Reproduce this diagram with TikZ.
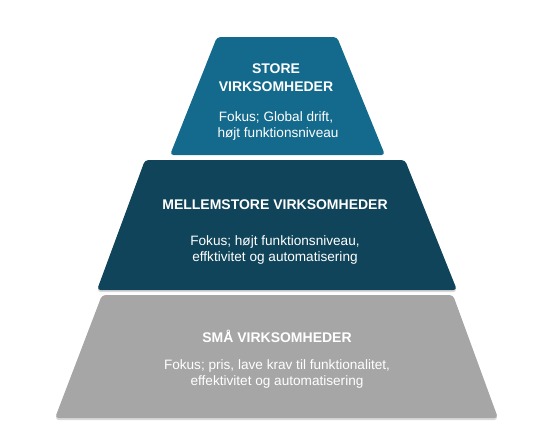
\documentclass[tikz,border=0pt]{standalone}
\usepackage{fontspec}
\setmainfont{Liberation Sans}
\definecolor{topc}{RGB}{20,106,140}
\definecolor{midc}{RGB}{15,68,90}
\definecolor{botc}{RGB}{166,166,166}
\begin{document}
\begin{tikzpicture}[x=1pt,y=-1pt,
  tier/.style={rounded corners=3.5pt},
  head/.style={anchor=base,text=white,inner sep=0pt,font=\fontsize{14}{16}\selectfont\bfseries},
  body/.style={anchor=base,text=white,inner sep=0pt,font=\fontsize{13.6}{16}\selectfont}]
\useasboundingbox (0,0) rectangle (550,440);
% tiers
\fill[tier,topc] (217,37) -- (337,37) -- (385,155) -- (170,155) -- cycle;
\fill[tier,black!15] (97,292) -- (457,292) -- (405,161) -- (145,161) -- cycle;
\fill[tier,midc] (145,160) -- (405,160) -- (457,290) -- (97,290) -- cycle;
\fill[tier,black!15] (102,296) -- (453,296) -- (498,420) -- (55,420) -- cycle;
\fill[tier,botc] (102,295) -- (453,295) -- (498,418) -- (55,418) -- cycle;
% texts
\node[head] (t1) at (276,73.3) {STORE};
\node[head] (t2) at (276,91) {VIRKSOMHEDER};
\node[body] (t3) at (276,121.7) {Fokus; Global drift,};
\node[body] (t4) at (278,137.7) {højt funktionsniveau};
\node[head] (m1) at (275,209) {MELLEMSTORE VIRKSOMHEDER};
\node[body] (m2) at (275,245) {Fokus; højt funktionsniveau,};
\node[body] (m3) at (275,261) {effktivitet og automatisering};
\node[head] (b1) at (277,342.7) {SMÅ VIRKSOMHEDER};
\node[body] (b2) at (277,369.3) {Fokus; pris, lave krav til funktionalitet,};
\node[body] (b3) at (277,385) {effektivitet og automatisering};
\end{tikzpicture}
\end{document}
